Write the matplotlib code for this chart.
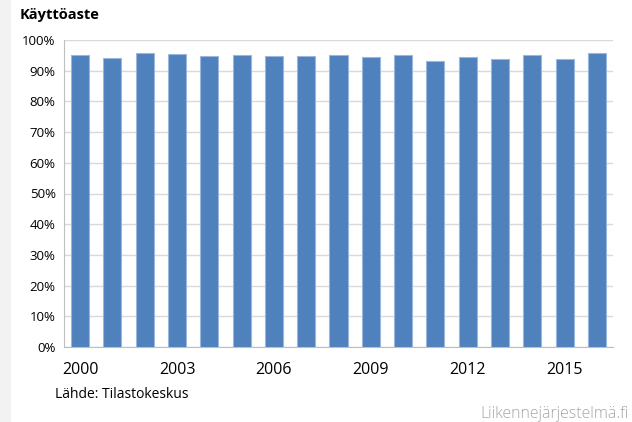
import matplotlib
matplotlib.use('Agg')
import matplotlib.pyplot as plt
from matplotlib.patches import Rectangle
import numpy as np

years = list(range(2000, 2017))
utilization = [95.0, 94.2, 95.9, 95.5, 94.7, 95.0, 94.7, 94.8, 95.0, 94.5,
               95.2, 93.2, 94.3, 93.9, 95.2, 93.9, 95.8]
year_labels = ['2000', '2003', '2006', '2009', '2012', '2015']

plt.rcParams['font.family'] = ['Open Sans', 'DejaVu Sans']

fig = plt.figure(figsize=(6.32, 4.22), dpi=100)
fig.patches.append(Rectangle((0, 0), 10 / 632, 1, transform=fig.transFigure,
                             color='#f2f2f2', zorder=0))
ax = fig.add_axes([64 / 632, 75 / 422, 549 / 632, 307 / 422])

x = np.arange(len(years))
ax.bar(x, utilization, width=0.56, color='#4f81bd', edgecolor='#9bb7dd',
       linewidth=0.8, zorder=3)

ax.set_xlim(-0.5, len(years) - 0.5)
ax.set_ylim(0, 100)
ax.set_yticks(np.arange(0, 101, 10))
ax.set_yticklabels([f'{v}%' for v in range(0, 101, 10)], fontsize=9.5)
ticks = [years.index(int(y)) for y in year_labels]
ax.set_xticks(ticks)
ax.set_xticklabels(year_labels, fontsize=11.5)
ax.tick_params(axis='both', length=0, pad=6)
ax.tick_params(axis='x', pad=11)
ax.grid(axis='y', color='#d9d9d9', linewidth=1, zorder=0)
for s in ['top', 'right']:
    ax.spines[s].set_visible(False)
for s in ['left', 'bottom']:
    ax.spines[s].set_color('#bfbfbf')

fig.text(20 / 632, 1 - 15 / 422, 'Käyttöaste', fontsize=10.5, fontweight='bold',
         va='center', ha='left')
fig.text(55 / 632, 1 - 394 / 422, 'Lähde: Tilastokeskus', fontsize=10,
         va='center', ha='left')
fig.text(629 / 632, 1 - 414 / 422, 'Liikennejärjestelmä.fi', fontsize=11.4,
         color='#a6a6a6', va='center', ha='right', fontweight='light')

fig.savefig('out.png', dpi=100)
